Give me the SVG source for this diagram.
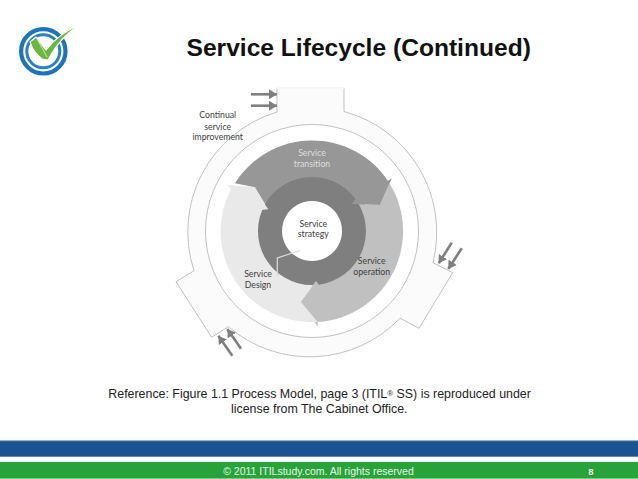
<svg xmlns="http://www.w3.org/2000/svg" width="638" height="479" viewBox="0 0 638 479">
<style>
text{font-family:"Liberation Sans",Arial,sans-serif}
.d{font-family:"Lato","Open Sans",sans-serif;font-size:8.7px;text-anchor:middle;fill:#404040}
.a{stroke:#7f7f7f;stroke-width:2.6;fill:none;marker-end:url(#h)}
</style>
<defs>
<marker id="h" markerUnits="userSpaceOnUse" markerWidth="9" markerHeight="10" refX="8" refY="5" orient="auto"><path d="M0 0L8 5L0 10Z" fill="#7f7f7f"/></marker>
</defs>
<rect width="638" height="479" fill="#fff"/>
<g id="logo">
<circle cx="43.3" cy="51.3" r="22.2" fill="none" stroke="#1b75bb" stroke-width="4.2"/>
<circle cx="43.3" cy="51.3" r="16.5" fill="none" stroke="#2a80c0" stroke-width="3"/>
<path d="M30 42L36 37L46 50Q60 32 82 24Q62 34 48 60L42 59Q33 52 30 42Z" fill="#6cb83f" stroke="#fff" stroke-width="1.2"/>
<path d="M36 37L47 57" stroke="#e4f0da" stroke-width=".8"/>
</g>
<text id="title" x="358.7" y="56" font-size="24.6" font-weight="700" text-anchor="middle" fill="#111">Service Lifecycle (Continued)</text>
<g id="outer-ring">
<path d="M277 88H344V111.5A125 125 0 0 1 433 262.7L452.7 272.7L419 328.3L400 318.3A125 125 0 0 1 228.3 326.7L211.7 337.3L176 281.7L194 270.7A125 125 0 0 1 277 112Z" fill="#fbfbfb" stroke="#a8a8a8" stroke-width=".7"/>
<path d="M277 88H344" stroke="#fff" stroke-width="1.5"/>
<circle cx="312" cy="231" r="106.5" fill="#fff" stroke="#a8a8a8" stroke-width=".7"/>
</g>
<g id="service-operation">
<path d="M391.7 178.3L380 205L351.7 204L355 231L345 260L316 275L316 281L300.7 301.7L317.7 326.7L317.7 322A91 91 0 0 0 388 181Z" fill="#c0c0c0"/>
</g>
<g id="service-design">
<path d="M227.3 185L255 187.3L268.3 209.3L262 231L270 260L300 272L316 275L316 281L300.7 301.7L317.7 322A91 91 0 0 1 231 189Z" fill="#e9e9e9"/>
</g>
<g id="service-transition">
<path d="M235 183.3A91 91 0 0 1 388 181L391.7 178.3L380 205L351.7 204L312 190L268.3 209.3L255 187.3Z" fill="#979797"/>
</g>
<g id="service-strategy">
<path fill-rule="evenodd" d="M312 177A54 54 0 1 1 311.9 177ZM312 201A30 30 0 1 0 312.1 201Z" fill="#7f7f7f"/>
<path d="M351.7 204L357 197.5L365 204.5Z" fill="#979797"/>
<path d="M268.3 209.3L264 203L260 210Z" fill="#e9e9e9"/>
<path d="M316 281L312 286L319 285Z" fill="#c0c0c0"/>
<path d="M277.3 276.7V258L300 250.5" fill="none" stroke="#dcdcdc" stroke-width="1.2"/>
<text class="d" x="313.3" y="226.7">Service</text>
<text class="d" x="313.3" y="237.3">strategy</text>
</g>
<g id="labels">
<text class="d" x="312" y="155.7" style="fill:#dedede">Service</text>
<text class="d" x="312" y="166.7" style="fill:#dedede">transition</text>
<text class="d" x="371.7" y="264">Service</text>
<text class="d" x="371.7" y="275">operation</text>
<text class="d" x="258" y="277">Service</text>
<text class="d" x="258" y="288">Design</text>
<text class="d" x="217.7" y="118.3">Continual</text>
<text class="d" x="217.7" y="129.5">service</text>
<text class="d" x="217.7" y="140.3">improvement</text>
</g>
<g id="connectors">
<path class="a" d="M251 94.3H277"/>
<path class="a" d="M251 105.7H277"/>
<path class="a" d="M451.7 242.7L438.7 263.3"/>
<path class="a" d="M461.7 248.3L448.3 269"/>
<path class="a" d="M232.3 355.7L218.3 335.7"/>
<path class="a" d="M241 348.7L227.3 329"/>
</g>
<g id="reference" font-size="12.4" fill="#222">
<text x="108.3" y="398">Reference: Figure 1.1 Process Model, page 3 (ITIL<tspan font-size="8" dy="-2">®</tspan><tspan dy="2"> SS) is reproduced under</tspan></text>
<text x="231" y="413">license from The Cabinet Office.</text>
</g>
<g id="footer">
<rect y="441" width="638" height="15.7" fill="#1a5490"/>
<rect y="440" width="638" height="1.2" fill="#8fb0d0"/>
<rect y="462" width="638" height="16.6" fill="#27a33a"/>
<text x="318.5" y="475" font-size="10.5" text-anchor="middle" fill="#e8f5e8">© 2011 ITILstudy.com. All rights reserved</text>
<text x="591" y="475" font-size="9.5" font-weight="700" text-anchor="middle" fill="#e8f5e8">8</text>
</g>
</svg>
